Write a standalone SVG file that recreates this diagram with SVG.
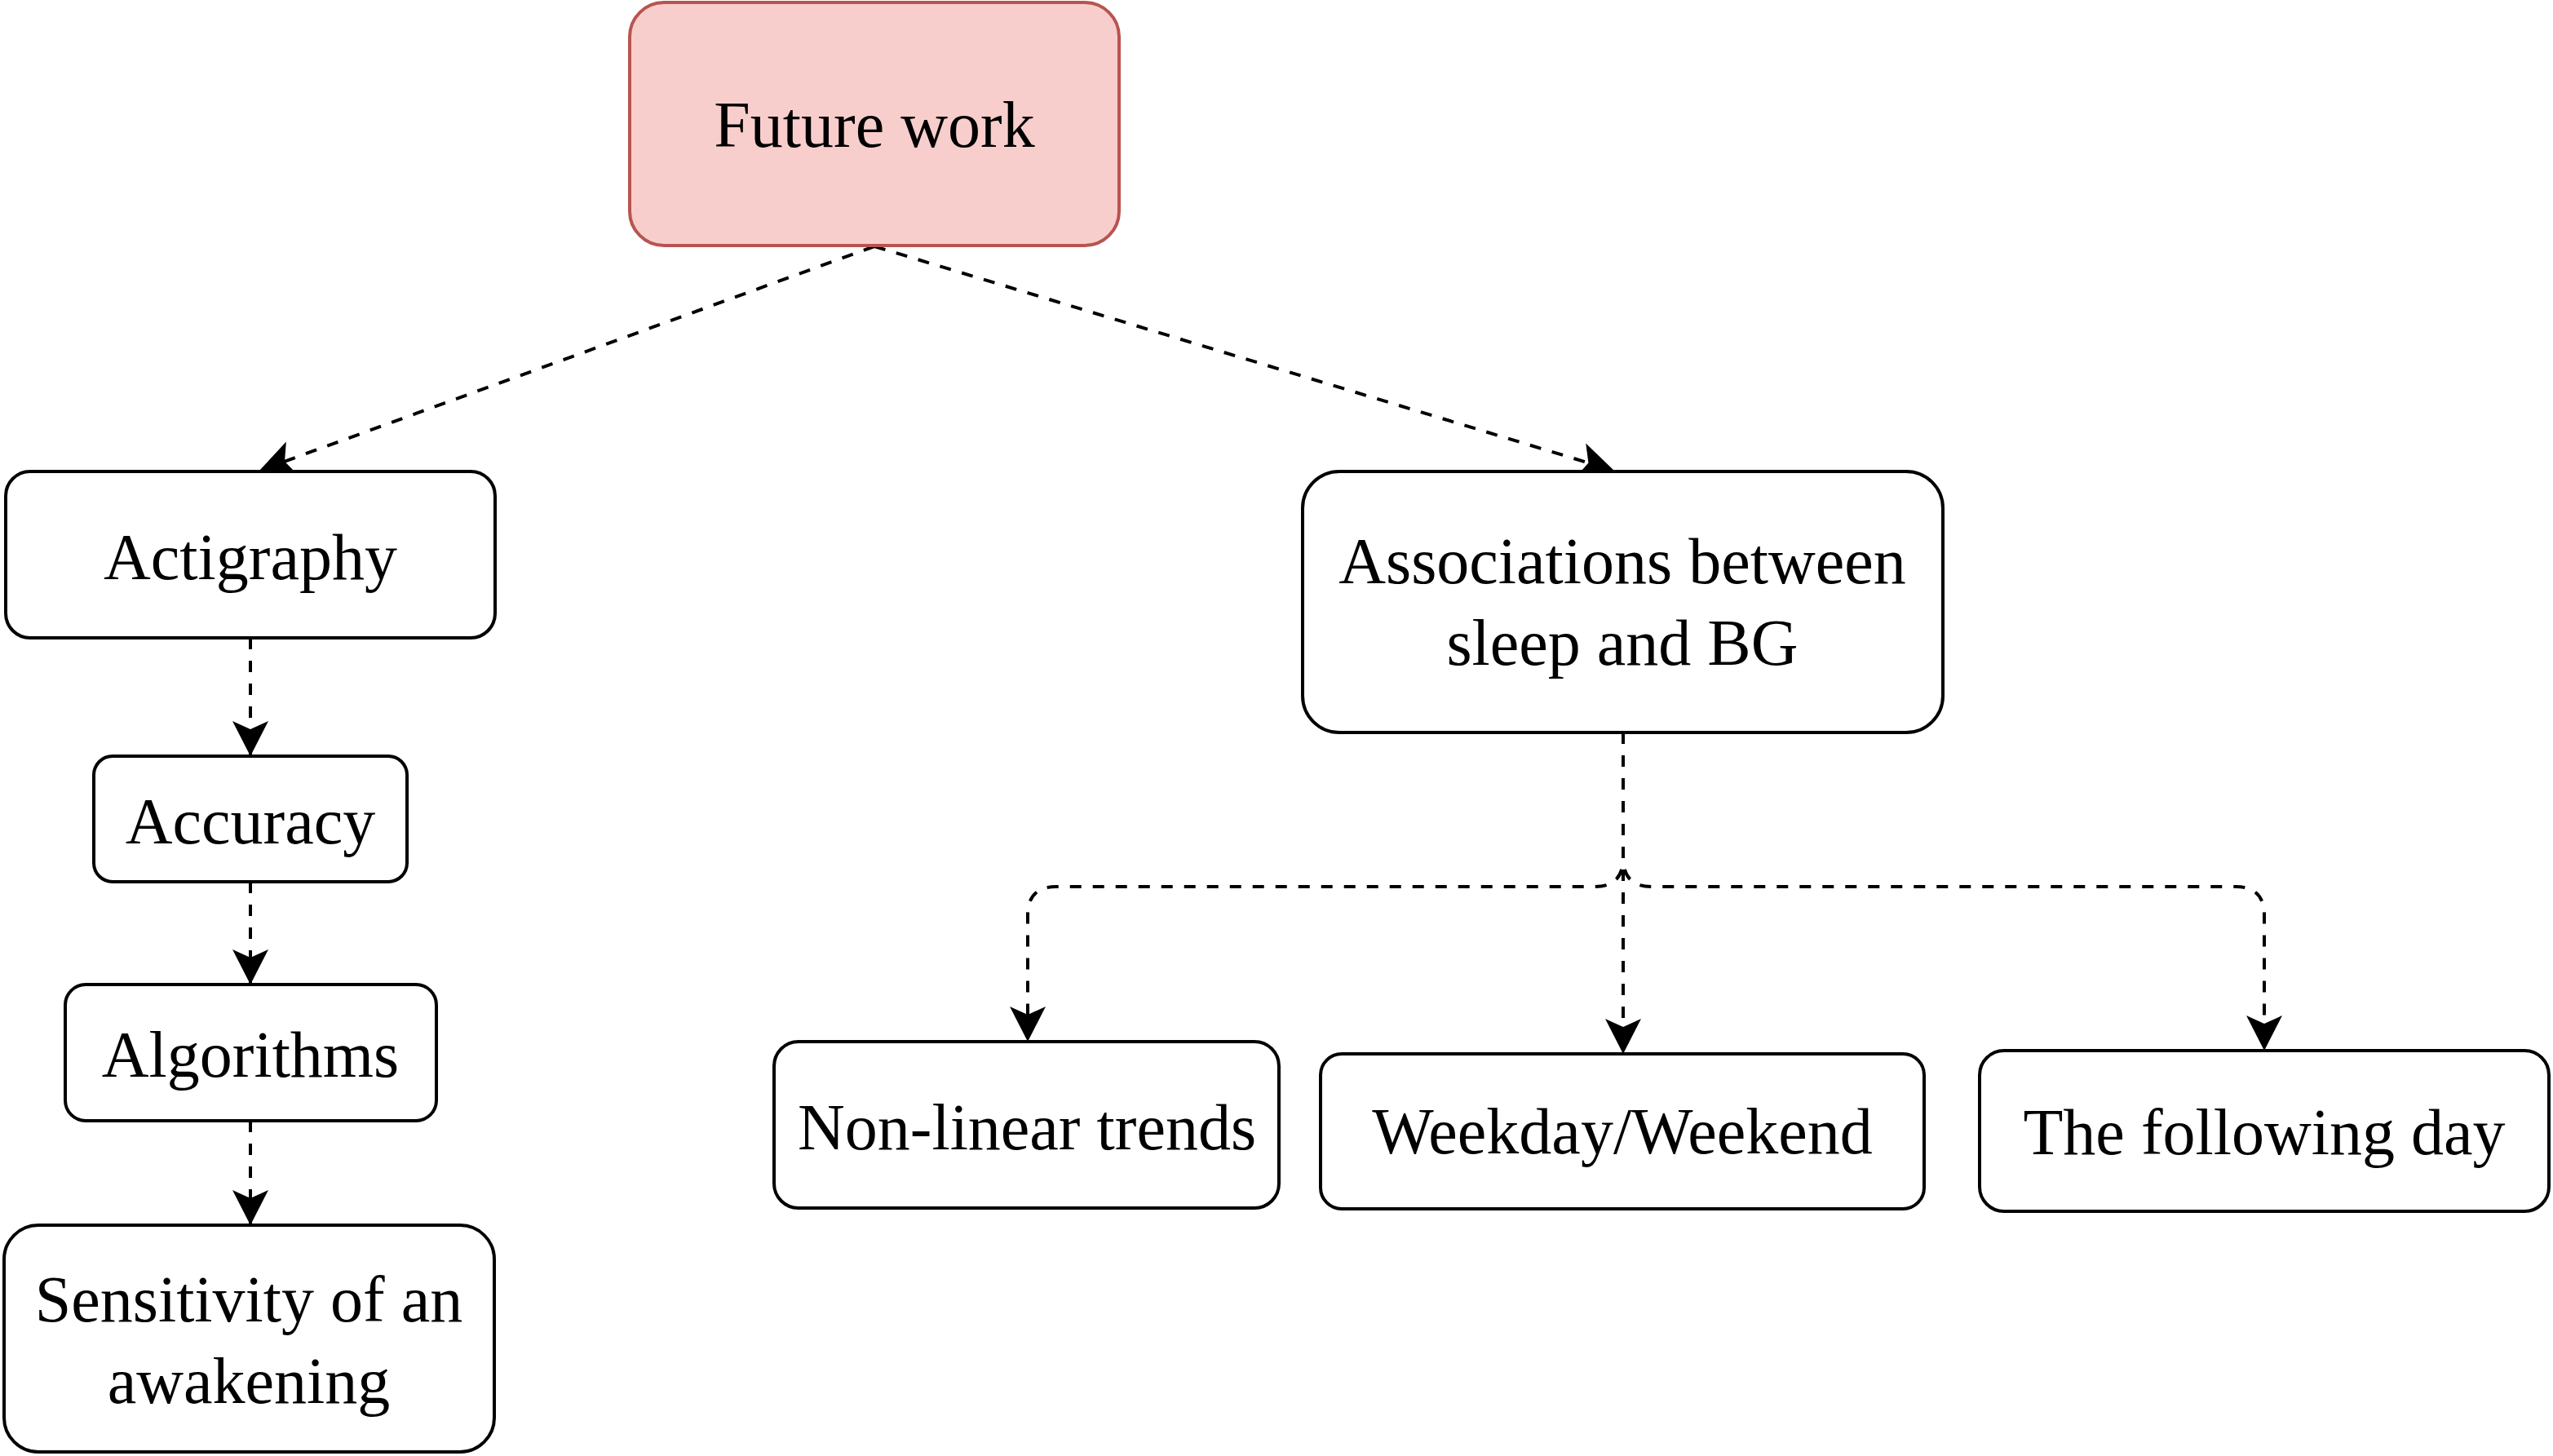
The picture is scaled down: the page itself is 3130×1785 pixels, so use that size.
<svg xmlns="http://www.w3.org/2000/svg" width="3130" height="1785" viewBox="0 0 3130 1785">
<style>
.box{fill:#ffffff;stroke:#000000;stroke-width:4}
.hl{fill:#f8cecc;stroke:#b85450;stroke-width:4}
.lbl{font-family:"Liberation Serif","Times New Roman",serif;font-size:80px;fill:#000000;text-anchor:middle}
.edge{fill:none;stroke:#000000;stroke-width:4;stroke-dasharray:14 14;marker-end:url(#arr)}
</style>
<defs>
<marker id="arr" markerUnits="userSpaceOnUse" markerWidth="50" markerHeight="50" viewBox="-45 -25 50 50" refX="0" refY="0" orient="auto">
<path d="M0,0 L-43,-22 L-33,0 L-43,22 Z" fill="#000000"/>
</marker>
</defs>
<rect width="3130" height="1785" fill="#ffffff"/>
<g id="connectors">
<path class="edge" d="M1072,302 L318,577"/>
<path class="edge" d="M1072,302 L1979,577"/>
<path class="edge" d="M307,782 L307,927"/>
<path class="edge" d="M307,1081 L307,1207"/>
<path class="edge" d="M307,1374 L307,1502"/>
<path class="edge" d="M1990,898 L1990,1052 Q1990,1087 1955,1087 L1295,1087 Q1260,1087 1260,1122 L1260,1277"/>
<path class="edge" d="M1990,898 L1990,1292"/>
<path class="edge" d="M1990,898 L1990,1052 Q1990,1087 2025,1087 L2741,1087 Q2776,1087 2776,1122 L2776,1288"/>
</g>
<g id="future-work">
<rect class="hl" x="772" y="3" width="600" height="298" rx="42" ry="42"/>
<text class="lbl" x="1072" y="180">Future work</text>
</g>
<g id="actigraphy">
<rect class="box" x="7" y="578" width="600" height="204" rx="30" ry="30"/>
<text class="lbl" x="307" y="710">Actigraphy</text>
</g>
<g id="accuracy">
<rect class="box" x="115" y="927" width="384" height="154" rx="23" ry="23"/>
<text class="lbl" x="307" y="1034">Accuracy</text>
</g>
<g id="algorithms">
<rect class="box" x="80" y="1207" width="455" height="167" rx="25" ry="25"/>
<text class="lbl" x="307" y="1320">Algorithms</text>
</g>
<g id="sensitivity">
<rect class="box" x="5" y="1502" width="601" height="278" rx="42" ry="42"/>
<text class="lbl" x="305" y="1620">Sensitivity of an</text>
<text class="lbl" x="305" y="1720">awakening</text>
</g>
<g id="associations">
<rect class="box" x="1597" y="578" width="785" height="320" rx="45" ry="45"/>
<text class="lbl" x="1989" y="715">Associations between</text>
<text class="lbl" x="1989" y="815">sleep and BG</text>
</g>
<g id="non-linear">
<rect class="box" x="949" y="1277" width="619" height="204" rx="30" ry="30"/>
<text class="lbl" x="1259" y="1409">Non-linear trends</text>
</g>
<g id="weekday">
<rect class="box" x="1619" y="1292" width="740" height="190" rx="26" ry="26"/>
<text class="lbl" x="1989" y="1414">Weekday/Weekend</text>
</g>
<g id="following-day">
<rect class="box" x="2427" y="1288" width="698" height="197" rx="30" ry="30"/>
<text class="lbl" x="2776" y="1415">The following day</text>
</g>
</svg>
